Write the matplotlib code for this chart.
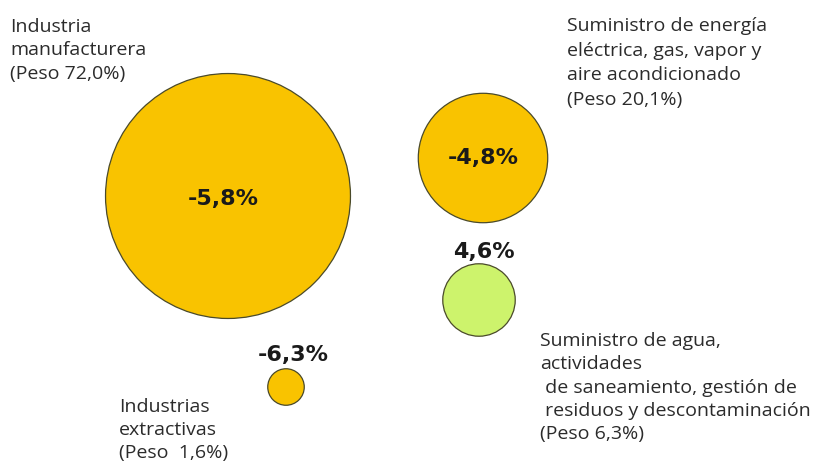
import matplotlib.pyplot as plt

# data
sectores = ["Industria\nmanufacturera\n(Peso 72,0%)",
            "Suministro de energía\neléctrica, gas, vapor y\naire acondicionado\n(Peso 20,1%)",
            "Suministro de agua,\nactividades\n de saneamiento, gestión de\n residuos y descontaminación\n(Peso 6,3%)",
            "Industrias\nextractivas\n(Peso  1,6%)"]
peso = [72.0, 20.1, 6.3, 1.6]
variacion = [-5.8, -4.8, 4.6, -6.3]

# layout (pixel coords, y down)
centros = [(228, 196), (483, 158), (479, 300), (286, 387)]
pos_nombre = [(10, 18), (567, 17), (540, 332), (119, 398)]
interlineado = [1.38, 1.47, 1.38, 1.34]
pos_valor = [(223, 199), (483, 158), (484, 252), (293, 355)]

plt.rcParams['font.family'] = ['Open Sans', 'DejaVu Sans']

fig = plt.figure(figsize=(8.26, 4.66), dpi=100)
ax = fig.add_axes([0, 0, 1, 1])
ax.set_xlim(0, 826)
ax.set_ylim(466, 0)
ax.axis('off')

colores = ['#F9C300' if v < 0 else '#CDF36C' for v in variacion]
x = [c[0] for c in centros]
y = [c[1] for c in centros]
# bubble area proportional to weight
ax.scatter(x, y, s=[p * 432 for p in peso], c=colores,
           edgecolors='#4a4a2a', linewidths=0.9, zorder=2)

for nombre, (tx, ty), ls in zip(sectores, pos_nombre, interlineado):
    ax.text(tx, ty, nombre, fontsize=14, color='#2b2b2b',
            ha='left', va='top', linespacing=ls)

for v, (tx, ty) in zip(variacion, pos_valor):
    etiqueta = f"{v:.1f}%".replace('.', ',')
    ax.text(tx, ty, etiqueta, fontsize=16, fontweight='bold', color='#1a1a1a',
            family='DejaVu Sans', ha='center', va='center', zorder=3)

fig.savefig('out.png', dpi=100)
